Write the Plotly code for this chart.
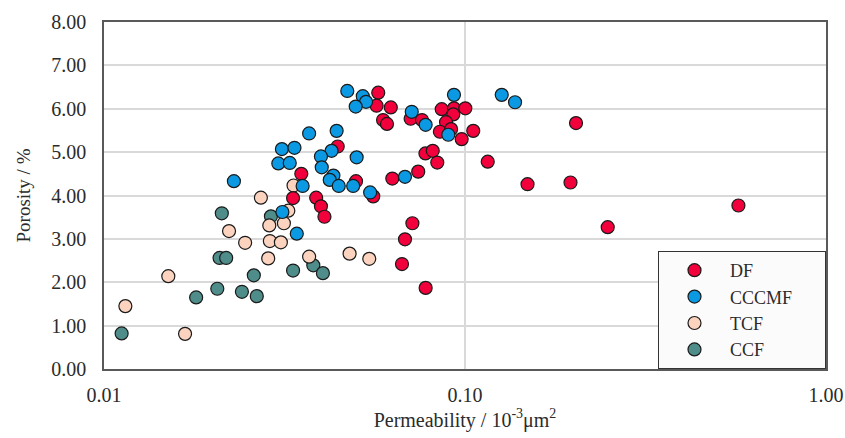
import plotly.graph_objects as go

# Permeability (10^-3 um^2) and porosity (%) per facies
df_perm = [0.0575, 0.0569, 0.0623, 0.0593, 0.0608, 0.0707, 0.0760, 0.0777, 0.0814, 0.0838,
           0.0862, 0.0932, 0.1002, 0.0928, 0.0886, 0.0852, 0.0915, 0.0979, 0.1054, 0.203,
           0.1156, 0.0629, 0.0742, 0.149, 0.196, 0.0715, 0.0682, 0.0669, 0.0778, 0.2485,
           0.572, 0.0444, 0.0499, 0.0557, 0.0352, 0.0334, 0.0387, 0.0399, 0.0408]
df_poro = [6.37, 6.07, 6.03, 5.74, 5.65, 5.77, 5.74, 4.97, 5.03, 4.76,
           5.99, 6.01, 6.01, 5.87, 5.69, 5.47, 5.53, 5.30, 5.49, 5.67,
           4.78, 4.39, 4.55, 4.26, 4.30, 3.36, 2.99, 2.42, 1.87, 3.27,
           3.77, 5.13, 4.33, 3.98, 4.50, 3.94, 3.95, 3.75, 3.51]

cccmf_perm = [0.0472, 0.0521, 0.0532, 0.0498, 0.0712, 0.0778, 0.0932, 0.1264, 0.1376, 0.0899,
              0.0370, 0.0441, 0.0427, 0.0311, 0.0337, 0.0399, 0.0501, 0.0304, 0.0327, 0.0401,
              0.0432, 0.0422, 0.0447, 0.0490, 0.0682, 0.0229, 0.0546, 0.0355, 0.0312, 0.0342]
cccmf_poro = [6.41, 6.29, 6.16, 6.05, 5.93, 5.63, 6.32, 6.32, 6.15, 5.40,
              5.43, 5.49, 5.03, 5.07, 5.10, 4.90, 4.88, 4.74, 4.75, 4.65,
              4.46, 4.36, 4.22, 4.22, 4.43, 4.33, 4.07, 4.22, 3.62, 3.12]

tcf_perm = [0.0272, 0.0335, 0.0324, 0.0287, 0.0315, 0.0222, 0.0246, 0.0288, 0.0309, 0.0285,
            0.01507, 0.01146, 0.01677, 0.0370, 0.0479, 0.0543]
tcf_poro = [3.95, 4.23, 3.65, 3.31, 3.36, 3.18, 2.91, 2.95, 2.92, 2.55,
            2.14, 1.45, 0.81, 2.59, 2.66, 2.54]

ccf_perm = [0.0212, 0.0290, 0.0209, 0.0218, 0.0260, 0.0334, 0.0206, 0.0180, 0.0241, 0.0265,
            0.01119, 0.0380, 0.0404]
ccf_poro = [3.59, 3.52, 2.56, 2.56, 2.16, 2.27, 1.85, 1.65, 1.78, 1.68,
            0.82, 2.39, 2.21]

x_tickvals = [0.01, 0.1, 1.0]
x_ticktext = ["0.01", "0.10", "1.00"]
y_tickvals = [0, 1, 2, 3, 4, 5, 6, 7, 8]
y_ticktext = ["0.00", "1.00", "2.00", "3.00", "4.00", "5.00", "6.00", "7.00", "8.00"]

FONT = "Liberation Serif, Times New Roman, serif"
TXT = "#2b2b2b"
PAD = "\u00a0" * 6  # widens the legend box to match the reference
series = [
    ("CCF", ccf_perm, ccf_poro, "#4E8D8A", 4),
    ("TCF", tcf_perm, tcf_poro, "#FCD3BF", 3),
    ("DF", df_perm, df_poro, "#F2003C", 1),
    ("CCCMF", cccmf_perm, cccmf_poro, "#0A99E2", 2),
]

fig = go.Figure()
for name, xs, ys, color, rank in series:
    fig.add_trace(go.Scatter(
        x=xs, y=ys, mode="markers", name=name + PAD, legendrank=rank,
        marker=dict(size=13, color=color, line=dict(color="#1a1a1a", width=1.2)),
    ))

fig.update_layout(
    width=845, height=438,
    margin=dict(l=104, r=19, t=22, b=69, autoexpand=False),
    plot_bgcolor="white", paper_bgcolor="white",
    font=dict(family=FONT, size=20, color=TXT),
    showlegend=True,
    legend=dict(
        x=1, xanchor="right", y=0, yanchor="bottom",
        bgcolor="#fbfbfb", bordercolor="#333333", borderwidth=1,
        font=dict(family=FONT, size=18, color=TXT),
        itemwidth=61, tracegroupgap=0,
    ),
)
fig.update_xaxes(
    type="log", range=[-2, 0], automargin=False,
    tickvals=x_tickvals, ticktext=x_ticktext,
    tickfont=dict(family=FONT, size=20, color=TXT),
    showgrid=True, gridcolor="#d9d9d9", gridwidth=1.5,
    showline=True, linecolor="#595959", linewidth=1.5, mirror=True,
    ticks="outside", ticklen=7, tickcolor="rgba(0,0,0,0)",
    zeroline=False,
    title=dict(text="Permeability / 10<sup>-3</sup>μm<sup>2</sup>", standoff=8,
               font=dict(family=FONT, size=20, color=TXT)),
)
fig.update_yaxes(
    range=[0, 8], automargin=False,
    tickvals=y_tickvals, ticktext=y_ticktext,
    tickfont=dict(family=FONT, size=20, color=TXT),
    showgrid=True, gridcolor="#d9d9d9", gridwidth=1.5,
    showline=True, linecolor="#595959", linewidth=1.5, mirror=True,
    ticks="outside", ticklen=12, tickcolor="rgba(0,0,0,0)",
    zeroline=False,
    title=dict(text="Porosity / %", standoff=16, font=dict(family=FONT, size=19, color=TXT)),
)

fig.write_html("out.html")
